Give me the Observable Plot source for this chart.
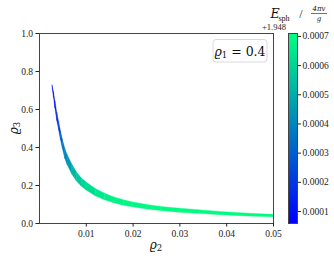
<!DOCTYPE html>
<html><head><meta charset="utf-8">
<script src="https://cdn.jsdelivr.net/npm/d3@7"></script>
<script src="https://cdn.jsdelivr.net/npm/@observablehq/plot@0.6"></script>
<style>
html,body{margin:0;padding:0;background:#fff;}
#wrap{position:relative;width:334px;height:259px;}
#wrap svg{position:absolute;left:0;top:0;}
</style>
</head><body><div id="wrap"></div>
<script>
const rho2 =   [0.0028,0.0031,0.0034,0.0038,0.0042,0.0046,0.0050,0.0055,0.0060,0.0070,0.0080,0.0090,0.0100,0.0120,0.0140,0.0160,0.0180,0.0200,0.0230,0.0260,0.0300,0.0340,0.0380,0.0420,0.0460,0.0500];
const rho3Lo = [0.712,0.662,0.605,0.540,0.489,0.437,0.393,0.341,0.308,0.258,0.221,0.195,0.175,0.144,0.122,0.106,0.094,0.085,0.074,0.066,0.057,0.051,0.045,0.040,0.036,0.033];
const rho3Hi = [0.726,0.688,0.640,0.580,0.532,0.483,0.439,0.394,0.360,0.310,0.268,0.238,0.217,0.182,0.157,0.137,0.122,0.111,0.097,0.087,0.078,0.070,0.062,0.055,0.050,0.046];
const Esph =   [0.00008,0.00010,0.00013,0.00018,0.00024,0.00030,0.00036,0.00041,0.00046,0.00053,0.00057,0.00060,0.00062,0.00065,0.00067,0.00068,0.00069,0.00069,0.00070,0.00070,0.00070,0.00070,0.00070,0.00070,0.00070,0.00070];
const xTicks = [0.01,0.02,0.03,0.04,0.05];
const yTicks = [0,0.2,0.4,0.6,0.8,1.0];
const cbTicks = [0.0001,0.0002,0.0003,0.0004,0.0005,0.0006,0.0007];
const Emin = 0.0000589, Emax = 0.00071;

const segs = [];
for (let i = 0; i < rho2.length - 1; i++) {
  for (const j of [i, i + 1]) segs.push({x: rho2[j], lo: rho3Lo[j], hi: rho3Hi[j], E: Esph[i], seg: i});
}
const color = {type: "linear", domain: [Emin, Emax], range: ["#0000ff", "#00ff80"], interpolate: "rgb"};
const font = "Liberation Serif, DejaVu Serif, serif";

const main = Plot.plot({
  width: 334, height: 259,
  marginLeft: 39, marginRight: 61, marginTop: 33, marginBottom: 36,
  style: {fontFamily: font, fontSize: "9.5px", background: "transparent", color: "#222"},
  x: {domain: [0, 0.05]},
  y: {domain: [0, 1]},
  color,
  marks: [
    Plot.areaY(segs, {x: "x", y1: "lo", y2: "hi", z: "seg", fill: "E", stroke: "E", strokeWidth: 0.4}),
    Plot.frame({stroke: "#444"}),
    Plot.axisX({ticks: xTicks, tickSize: 3.5, tickPadding: 3, tickFormat: d3.format(".2f"), label: null}),
    Plot.axisY({ticks: yTicks, tickSize: 3.5, tickPadding: 3, tickFormat: d3.format(".1f"), label: null})
  ]
});

const cb = Plot.plot({
  width: 334, height: 259,
  marginLeft: 288, marginRight: 37, marginTop: 33, marginBottom: 36,
  style: {fontFamily: font, fontSize: "9.5px", background: "transparent", color: "#222"},
  x: {domain: [0, 1], axis: null},
  y: {domain: [Emin, Emax]},
  color,
  marks: [
    Plot.raster({x1: 0, x2: 1, y1: Emin, y2: Emax, width: 1, height: 190, fill: (x, y) => y}),
    Plot.frame({stroke: "#444"}),
    Plot.axisY({anchor: "right", ticks: cbTicks, tickSize: 3, tickPadding: 2, tickFormat: d3.format(".4f"), label: null})
  ]
});

const wrap = document.getElementById("wrap");
wrap.appendChild(main);
wrap.appendChild(cb);

const s = d3.select(main);
const mfont = "DejaVu Serif, serif";
// x label
const xl = s.append("text").attr("x", 156).attr("y", 249).attr("text-anchor", "middle")
  .attr("font-family", mfont).attr("font-size", 12).attr("fill", "#111");
xl.append("tspan").attr("font-style", "italic").text("ϱ");
xl.append("tspan").attr("font-size", 8.5).attr("dy", 2).text("2");
// y label
const yl = s.append("text").attr("transform", "translate(18,128) rotate(-90)").attr("text-anchor", "middle")
  .attr("font-family", mfont).attr("font-size", 12).attr("fill", "#111");
yl.append("tspan").attr("font-style", "italic").text("ϱ");
yl.append("tspan").attr("font-size", 8.5).attr("dy", 2).text("3");
// legend box
s.append("rect").attr("x", 213).attr("y", 39.5).attr("width", 54).attr("height", 22.5).attr("rx", 3)
  .attr("fill", "white").attr("fill-opacity", 0.8).attr("stroke", "#d0d0d0").attr("stroke-width", 0.8);
const lg = s.append("text").attr("x", 240).attr("y", 55.5).attr("text-anchor", "middle")
  .attr("font-family", mfont).attr("font-size", 12.5).attr("fill", "#111");
lg.append("tspan").attr("font-style", "italic").text("ϱ");
lg.append("tspan").attr("font-size", 8.5).attr("dy", 2).text("1");
lg.append("tspan").attr("dy", -2).text(" = 0.4");

// colorbar title
const c = d3.select(cb);
c.append("text").attr("x", 275).attr("y", 18).attr("font-family", mfont).attr("font-size", 12.5)
  .attr("font-style", "italic").attr("fill", "#111").text("E");
c.append("text").attr("x", 284).attr("y", 21).attr("font-family", font).attr("font-size", 8)
  .attr("fill", "#111").text("sph");
c.append("text").attr("x", 301).attr("y", 18).attr("font-family", font).attr("font-size", 12)
  .attr("fill", "#111").text("/");
c.append("text").attr("x", 319).attr("y", 11).attr("text-anchor", "middle").attr("font-family", mfont)
  .attr("font-size", 7).attr("font-style", "italic").attr("fill", "#111").text("4πv");
c.append("line").attr("x1", 311).attr("x2", 327).attr("y1", 13.5).attr("y2", 13.5).attr("stroke", "#111").attr("stroke-width", 0.6);
c.append("text").attr("x", 319).attr("y", 20.5).attr("text-anchor", "middle").attr("font-family", mfont)
  .attr("font-size", 7).attr("font-style", "italic").attr("fill", "#111").text("g");
c.append("text").attr("x", 274).attr("y", 30).attr("font-family", font).attr("font-size", 8.5).attr("fill", "#222").text("+1.948");
</script>
</body></html>
